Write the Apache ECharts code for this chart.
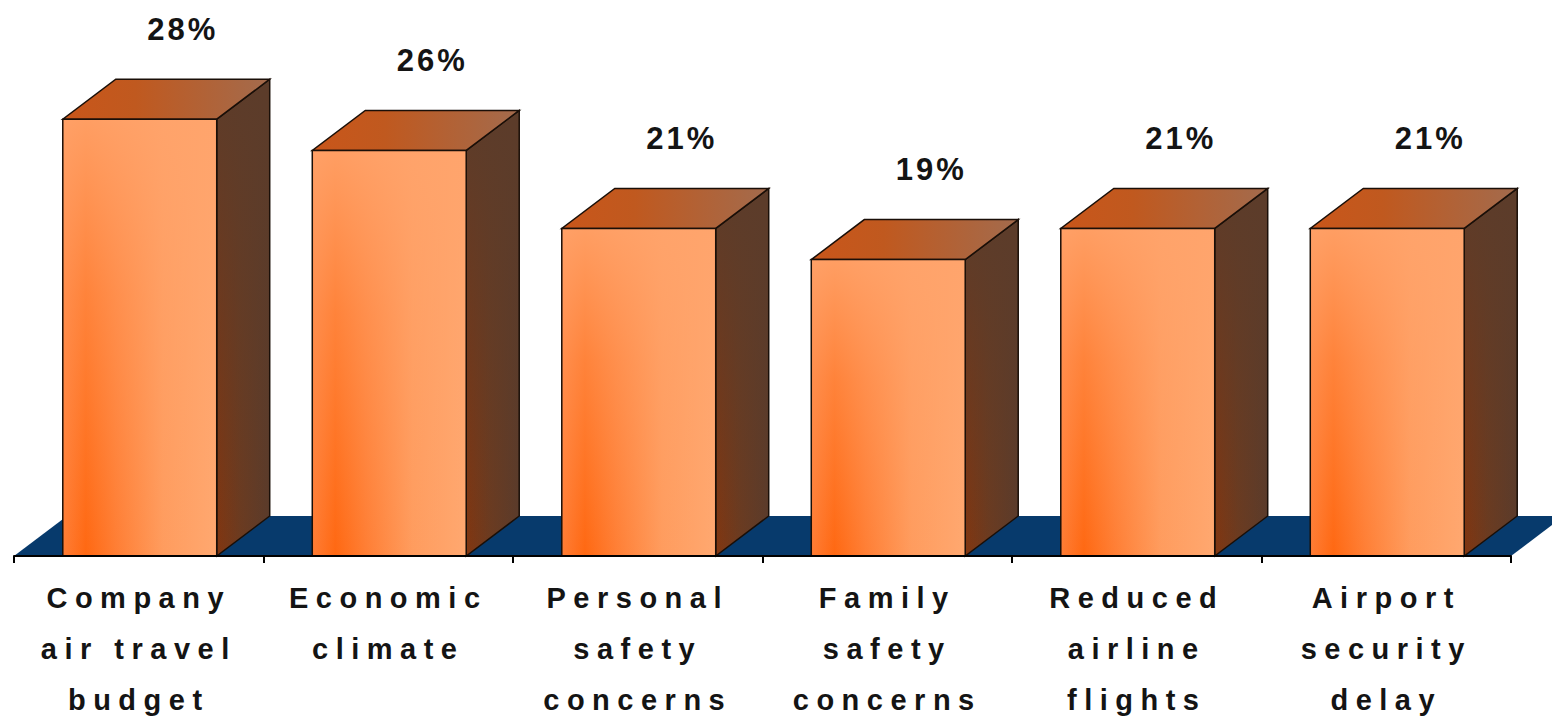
<!DOCTYPE html>
<html>
<head>
<meta charset="utf-8">
<script src="https://cdn.jsdelivr.net/npm/echarts@6/dist/echarts.min.js"></script>
<style>
  html, body { margin: 0; padding: 0; background: #ffffff; }
  #chart { width: 1552px; height: 718px; }
  /* widened tracking for the bold labels */
  #chart text[style*="29px"] { letter-spacing: 7.5px; }
  #chart text[style*="31px"] { letter-spacing: 3px; }
</style>
</head>
<body>
<div id="chart"></div>
<script>
// Reasons for fewer business trips (share of respondents, %)
const categories = [
  'Company\nair travel\nbudget',
  'Economic\nclimate',
  'Personal\nsafety\nconcerns',
  'Family\nsafety\nconcerns',
  'Reduced\nairline\nflights',
  'Airport\nsecurity\ndelay'
];
const shares = [28, 26, 21, 19, 21, 21];

// 3D extrusion offsets (pixels)
const DEPTH_X = 53;
const DEPTH_Y = 40;
const BAR_RATIO = 0.617;
const EDGE = '#1a0f08';

const chart = echarts.init(document.getElementById('chart'), null, { renderer: 'svg' });

function renderFloor(params, api) {
  const cs = params.coordSys;
  const x0 = cs.x, x1 = cs.x + cs.width, yb = cs.y + cs.height;
  return {
    type: 'polygon',
    shape: {
      points: [[x0, yb], [x1, yb], [x1 + DEPTH_X, yb - DEPTH_Y], [x0 + DEPTH_X, yb - DEPTH_Y]]
    },
    style: { fill: '#073a6c' }
  };
}

function renderBar(params, api) {
  const idx = api.value(0);
  const val = api.value(1);
  const top = api.coord([idx, val]);
  const base = api.coord([idx, 0]);
  const band = api.size([1, 0])[0];
  const w = band * BAR_RATIO;
  const cx = top[0] + 1;
  const xl = cx - w / 2, xr = cx + w / 2;
  const yt = top[1], yb = base[1];

  const G = echarts.graphic;
  // front: orange band on the left fading to peach on the right
  const frontFill = new G.LinearGradient(0, 0, 1, 0, [
    { offset: 0, color: '#ff7c34' },
    { offset: 0.15, color: '#ff6812' },
    { offset: 0.35, color: '#ff7e34' },
    { offset: 0.65, color: '#ff9c5e' },
    { offset: 1, color: '#ffa870' }
  ]);
  // upper part washes out toward peach
  const frontWash = new G.LinearGradient(0, 0, 0, 1, [
    { offset: 0, color: 'rgba(255,164,108,0.9)' },
    { offset: 0.4, color: 'rgba(255,164,108,0.45)' },
    { offset: 1, color: 'rgba(255,164,108,0)' }
  ]);
  const sideFill = new G.LinearGradient(0, 0, 1, 0, [
    { offset: 0, color: '#823610' },
    { offset: 0.45, color: '#6c3b20' },
    { offset: 1, color: '#5a3b2b' }
  ]);
  const sideWash = new G.LinearGradient(0, 0, 0, 1, [
    { offset: 0, color: 'rgba(92,60,42,1)' },
    { offset: 0.5, color: 'rgba(92,60,42,0.5)' },
    { offset: 1, color: 'rgba(92,60,42,0)' }
  ]);
  const topFill = new G.LinearGradient(0, 0, 1, 0, [
    { offset: 0, color: '#c9561a' },
    { offset: 0.35, color: '#c0591f' },
    { offset: 1, color: '#a36b4d' }
  ]);

  const sidePts = [[xr, yt], [xr + DEPTH_X, yt - DEPTH_Y], [xr + DEPTH_X, yb - DEPTH_Y], [xr, yb]];
  const frontRect = { x: xl, y: yt, width: w, height: yb - yt };

  return {
    type: 'group',
    children: [
      { type: 'polygon', shape: { points: sidePts }, style: { fill: sideFill } },
      { type: 'polygon', shape: { points: sidePts }, style: { fill: sideWash, stroke: EDGE, lineWidth: 1.5 } },
      {
        type: 'polygon',
        shape: { points: [[xl, yt], [xr, yt], [xr + DEPTH_X, yt - DEPTH_Y], [xl + DEPTH_X, yt - DEPTH_Y]] },
        style: { fill: topFill, stroke: EDGE, lineWidth: 1.5 }
      },
      { type: 'rect', shape: frontRect, style: { fill: frontFill } },
      { type: 'rect', shape: frontRect, style: { fill: frontWash, stroke: EDGE, lineWidth: 1.5 } },
      {
        type: 'text',
        x: cx + 43,
        y: yt - 90,
        style: {
          text: val + '%',
          fill: '#141414',
          fontSize: 31,
          fontWeight: 'bold',
          fontFamily: 'Liberation Sans',
          align: 'center',
          verticalAlign: 'middle'
        }
      }
    ]
  };
}

chart.setOption({
  backgroundColor: '#ffffff',
  animation: false,
  grid: { left: 14, right: 41, top: 88, bottom: 162, outerBoundsMode: 'none', containLabel: false },
  xAxis: {
    type: 'category',
    data: categories,
    boundaryGap: true,
    z: 10,
    axisLine: { show: true, lineStyle: { color: '#000000', width: 2 } },
    axisTick: { show: true, length: 7, lineStyle: { color: '#000000', width: 2 } },
    axisLabel: {
      interval: 0,
      margin: 16,
      color: '#141414',
      fontSize: 29,
      fontWeight: 'bold',
      fontFamily: 'Liberation Sans',
      lineHeight: 51
    },
    splitLine: { show: false }
  },
  yAxis: {
    type: 'value',
    min: 0,
    max: 30,
    show: false,
    splitLine: { show: false }
  },
  series: [
    {
      type: 'custom',
      z: 1,
      data: [[0]],
      renderItem: renderFloor,
      silent: true
    },
    {
      type: 'custom',
      z: 2,
      data: shares.map((v, i) => [i, v]),
      encode: { x: 0, y: 1 },
      renderItem: renderBar
    }
  ]
});
</script>
</body>
</html>
